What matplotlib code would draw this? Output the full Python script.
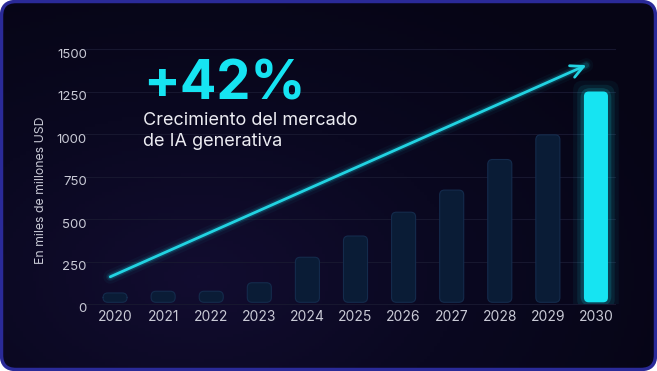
import matplotlib
matplotlib.use("Agg")
import matplotlib.pyplot as plt
import matplotlib.transforms as mtrans
from matplotlib.patches import FancyBboxPatch
from matplotlib.colors import LinearSegmentedColormap
import numpy as np

# data
years = [2020, 2021, 2022, 2023, 2024, 2025, 2026, 2027, 2028, 2029, 2030]
values = [65, 75, 75, 125, 275, 400, 540, 670, 850, 995, 1250]
y_ticks = [0, 250, 500, 750, 1000, 1250, 1500]
trend_years = [2019.9, 2029.8]
trend_values = [160, 1405]

title_big = "+42%"
subtitle = "Crecimiento del mercado\nde IA generativa"
ylabel = "En miles de millones USD"

cyan = "#16e4f2"
bar_col = "#0a1c36"
bar_edge = "#142b4c"
txt_col = "#c9cad6"

plt.rcParams['font.family'] = ['Inter', 'DejaVu Sans']

fig = plt.figure(figsize=(6.57, 3.71), dpi=100)
fig.patch.set_facecolor("white")
W, H = 657, 371

# card background: soft purple glow lower left, near black top right
bg = fig.add_axes([0, 0, 1, 1], zorder=-10)
bg.set_axis_off()
gx, gy = np.meshgrid(np.linspace(0, 1, 200), np.linspace(0, 1, 120))
d = np.sqrt(((gx - 0.3) / 0.8) ** 2 + ((gy - 0.25) / 0.9) ** 2)
cmap = LinearSegmentedColormap.from_list("bgc", ["#120d30", "#0a0820", "#060515"])
im = bg.imshow(np.clip(d, 0, 1), cmap=cmap, extent=[0, 1, 0, 1], origin="lower",
               aspect="auto", vmin=0, vmax=1)
card = FancyBboxPatch((1.5 / W, 1.5 / H), 1 - 3 / W, 1 - 3 / H,
                      boxstyle="round,pad=0,rounding_size=0.022",
                      transform=bg.transAxes, facecolor="none",
                      edgecolor="#2a2a98", linewidth=2.5, mutation_aspect=W / H)
bg.add_patch(card)
im.set_clip_path(card)
bg.set_xlim(0, 1)
bg.set_ylim(0, 1)

ax = fig.add_axes([91 / W, (H - 304) / H, (620 - 91) / W, (304 - 49) / H])
ax.set_facecolor("none")
ax.set_xlim(2019.5, 2030.5)
ax.set_ylim(0, 1500)
for s in ax.spines.values():
    s.set_visible(False)

# gridlines
for t in y_ticks:
    ax.plot([2019.3, 2030.4], [t, t], color="#17172f", lw=0.8, zorder=0,
            clip_on=False)

# bars
bw = 0.5
asp = 285
for yr, v in zip(years, values):
    if yr == years[-1]:
        for k, a in zip([0.95, 0.78, 0.64], [0.05, 0.09, 0.16]):
            ext = (k - bw) * asp / 2
            g = FancyBboxPatch((yr - k / 2, 10 - ext), k, v - 10 + 2 * ext,
                               boxstyle="round,pad=0,rounding_size=0.2",
                               mutation_aspect=asp, facecolor=cyan,
                               edgecolor="none", alpha=a, zorder=2)
            ax.add_patch(g)
        p = FancyBboxPatch((yr - bw / 2, 10), bw, v - 10,
                           boxstyle="round,pad=0,rounding_size=0.1",
                           mutation_aspect=asp, facecolor=cyan,
                           edgecolor="none", zorder=3)
    else:
        p = FancyBboxPatch((yr - bw / 2, 10), bw, v - 10,
                           boxstyle="round,pad=0,rounding_size=0.1",
                           mutation_aspect=asp, facecolor=bar_col,
                           edgecolor=bar_edge, lw=0.8, zorder=3)
    ax.add_patch(p)

# trend arrow with glow
for lw, a in [(10, 0.04), (6, 0.08), (4, 0.15)]:
    ax.plot(trend_years, trend_values, color=cyan, lw=lw, alpha=a,
            solid_capstyle="round", zorder=4)
ax.annotate("", xy=(trend_years[1], trend_values[1]),
            xytext=(trend_years[0], trend_values[0]),
            arrowprops=dict(arrowstyle="->,head_length=0.9,head_width=0.45",
                            color="#22d3e2", lw=2, shrinkA=0, shrinkB=0),
            zorder=5)

ax.set_xticks(years)
ax.set_xticklabels([str(y) for y in years], color=txt_col, fontsize=10)
ax.set_yticks(y_ticks)
ax.set_yticklabels([str(t) for t in y_ticks], color=txt_col, fontsize=9.5)
ax.tick_params(length=0, axis="x", pad=4)
ax.tick_params(length=0, axis="y", pad=3)
# labels sit a little below their gridlines
off = mtrans.ScaledTranslation(0, -4 / 100, fig.dpi_scale_trans)
for lab in ax.get_yticklabels():
    lab.set_transform(lab.get_transform() + off)

fig.text(41 / W, (H - 190) / H, ylabel, rotation=90, color=txt_col,
         fontsize=8.8, ha="center", va="center")

fig.text(143 / W, (H - 100) / H, title_big, color=cyan, fontsize=39,
         fontweight="bold", ha="left", va="baseline")
fig.text(143 / W, (H - 112) / H, subtitle, color="#ececf2", fontsize=13,
         ha="left", va="top", linespacing=1.3)

fig.savefig("out.png", dpi=100, facecolor="white")
